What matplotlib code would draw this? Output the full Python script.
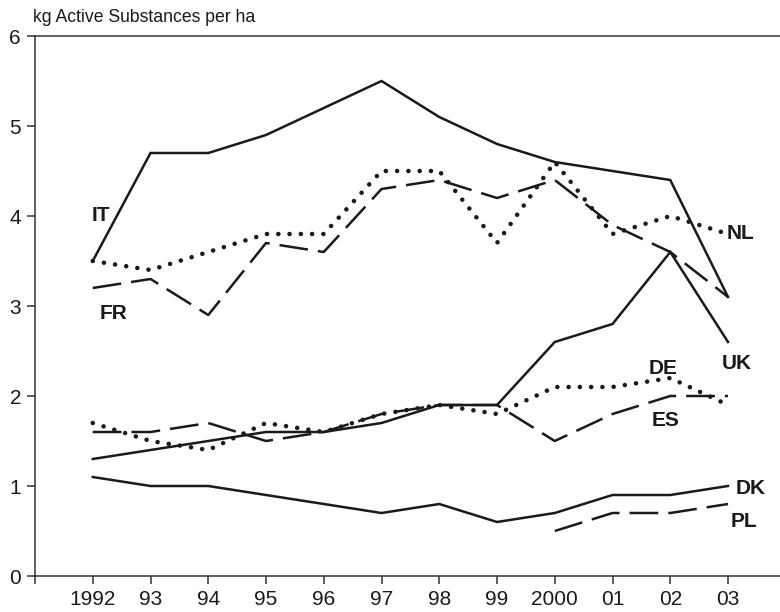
import matplotlib
matplotlib.use("Agg")
import matplotlib.pyplot as plt

plt.rcParams['font.family'] = ['Liberation Sans', 'DejaVu Sans']

years = [1992, 1993, 1994, 1995, 1996, 1997, 1998, 1999, 2000, 2001, 2002, 2003]
tick_labels = ['1992', '93', '94', '95', '96', '97', '98', '99', '2000', '01', '02', '03']

it = [3.5, 4.7, 4.7, 4.9, 5.2, 5.5, 5.1, 4.8, 4.6, 4.5, 4.4, 3.1]
nl = [3.5, 3.4, 3.6, 3.8, 3.8, 4.5, 4.5, 3.7, 4.6, 3.8, 4.0, 3.8]
fr = [3.2, 3.3, 2.9, 3.7, 3.6, 4.3, 4.4, 4.2, 4.4, 3.9, 3.6, 3.1]
uk = [1.3, 1.4, 1.5, 1.6, 1.6, 1.7, 1.9, 1.9, 2.6, 2.8, 3.6, 2.6]
de = [1.7, 1.5, 1.4, 1.7, 1.6, 1.8, 1.9, 1.8, 2.1, 2.1, 2.2, 1.9]
es = [1.6, 1.6, 1.7, 1.5, 1.6, 1.8, 1.9, 1.9, 1.5, 1.8, 2.0, 2.0]
dk = [1.1, 1.0, 1.0, 0.9, 0.8, 0.7, 0.8, 0.6, 0.7, 0.9, 0.9, 1.0]
pl_years = [2000, 2001, 2002, 2003]
pl = [0.5, 0.7, 0.7, 0.8]

ink = '#1a1a1a'
solid = dict(color=ink, lw=1.8, linestyle='-', solid_joinstyle='miter')
dotted = dict(color=ink, lw=3.3, linestyle=(0, (0.01, 2.45)), dash_capstyle='round')
dashed = dict(color=ink, lw=1.8, linestyle=(0, (11.5, 4.0)), dash_capstyle='butt')

fig = plt.figure(figsize=(7.8, 6.12), dpi=100)
ax = fig.add_axes([35 / 780, 36 / 612, 1 - 35 / 780, 540 / 612])

ax.plot(years, it, **solid)
ax.plot(years, uk, **solid)
ax.plot(years, dk, **solid)
ax.plot(years, fr, **dashed)
ax.plot(years, es, **dashed)
ax.plot(pl_years, pl, **dashed)
ax.plot(years, nl, **dotted)
ax.plot(years, de, **dotted)

labels = [
    ('IT', 1992.14, 4.01), ('FR', 1992.36, 2.92), ('NL', 2003.21, 3.81),
    ('UK', 2003.15, 2.36), ('DE', 2001.88, 2.31), ('ES', 2001.91, 1.73),
    ('DK', 2003.40, 0.97), ('PL', 2003.28, 0.61),
]
for name, lx, ly in labels:
    ax.text(lx, ly, name, fontsize=15, fontweight='bold', color=ink,
            ha='center', va='center')

ax.set_xlim(1991, 2003.9)
ax.set_ylim(0, 6)
ax.set_xticks([1991] + years)
ax.set_xticklabels([''] + tick_labels)
ax.set_yticks(range(0, 7))

for side in ('left', 'bottom', 'top'):
    ax.spines[side].set_linewidth(1.1)
    ax.spines[side].set_color('#333333')
ax.spines['right'].set_visible(False)

ax.tick_params(direction='out', length=6, width=1.1, color='#333333',
               labelsize=15, labelcolor=ink)
ax.tick_params(axis='x', pad=4)
ax.tick_params(axis='y', pad=4)

fig.text(33 / 780, 1 - 18 / 612, 'kg Active Substances per ha', fontsize=12.7,
         color=ink, ha='left', va='center')

fig.savefig('out.png', dpi=100)
